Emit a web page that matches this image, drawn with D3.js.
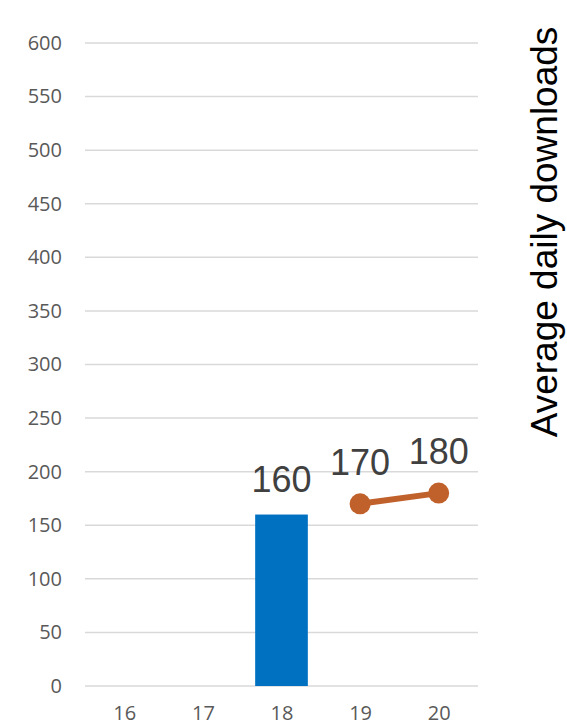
<!DOCTYPE html>
<html>
<head>
<meta charset="utf-8">
<script src="https://cdn.jsdelivr.net/npm/d3@7"></script>
<style>
  html, body { margin: 0; padding: 0; background: #fff; }
  svg { display: block; }
</style>
</head>
<body>
<svg id="chart" width="567" height="728"></svg>
<script>
// Chart data
const categories = ["16", "17", "18", "19", "20"];
const barValues = [null, null, 160, null, null];
const lineValues = [null, null, null, 170, 180];
const yTicks = [0, 50, 100, 150, 200, 250, 300, 350, 400, 450, 500, 550, 600];
const axisTitle = "Average daily downloads";

const svg = d3.select("#chart");
const plot = { left: 85, right: 478, top: 43, bottom: 686 };

const x = d3.scaleBand()
  .domain(categories)
  .range([plot.left, plot.right])
  .paddingInner(0.33)
  .paddingOuter(0.165);

const xc = d3.scalePoint()
  .domain(categories)
  .range([plot.left, plot.right])
  .padding(0.5);

const y = d3.scaleLinear().domain([0, 600]).range([plot.bottom, plot.top]);

// Horizontal gridlines
svg.append("g")
  .selectAll("line")
  .data(yTicks)
  .join("line")
  .attr("x1", plot.left).attr("x2", plot.right)
  .attr("y1", d => y(d)).attr("y2", d => y(d))
  .attr("stroke", "#d9d9d9")
  .attr("stroke-width", 1.5);

// Y axis labels
const yAxis = svg.append("g")
  .attr("transform", `translate(${plot.left},0)`)
  .call(d3.axisLeft(y).tickValues(yTicks).tickSize(0).tickPadding(23));
yAxis.select(".domain").remove();
yAxis.selectAll("text")
  .attr("font-family", "'Open Sans', 'Liberation Sans', sans-serif")
  .attr("font-size", 20)
  .attr("fill", "#595959");

// X axis labels
const xAxis = svg.append("g")
  .attr("transform", `translate(0,${plot.bottom})`)
  .call(d3.axisBottom(xc).tickSize(0).tickPadding(20));
xAxis.select(".domain").remove();
xAxis.selectAll("text")
  .attr("font-family", "'Open Sans', 'Liberation Sans', sans-serif")
  .attr("font-size", 20)
  .attr("fill", "#595959");

// Bars
const barData = categories.map((c, i) => ({ c, v: barValues[i] })).filter(d => d.v != null);
svg.append("g")
  .selectAll("rect")
  .data(barData)
  .join("rect")
  .attr("x", d => x(d.c))
  .attr("width", x.bandwidth())
  .attr("y", d => y(d.v))
  .attr("height", d => y(0) - y(d.v))
  .attr("fill", "#0070c0");

svg.append("g")
  .selectAll("text")
  .data(barData)
  .join("text")
  .attr("x", d => xc(d.c))
  .attr("y", d => y(d.v) - 23)
  .attr("text-anchor", "middle")
  .attr("font-family", "'Liberation Sans', Arial, sans-serif")
  .attr("font-size", 36)
  .attr("fill", "#404040")
  .text(d => d.v);

// Line series
const lineData = categories.map((c, i) => ({ c, v: lineValues[i] })).filter(d => d.v != null);
svg.append("path")
  .datum(lineData)
  .attr("d", d3.line().x(d => xc(d.c)).y(d => y(d.v)))
  .attr("fill", "none")
  .attr("stroke", "#c0612b")
  .attr("stroke-width", 6);

svg.append("g")
  .selectAll("circle")
  .data(lineData)
  .join("circle")
  .attr("cx", d => xc(d.c))
  .attr("cy", d => y(d.v))
  .attr("r", 10.5)
  .attr("fill", "#c0612b");

svg.append("g")
  .selectAll("text")
  .data(lineData)
  .join("text")
  .attr("x", d => xc(d.c))
  .attr("y", d => y(d.v) - 29)
  .attr("text-anchor", "middle")
  .attr("font-family", "'Liberation Sans', Arial, sans-serif")
  .attr("font-size", 36)
  .attr("fill", "#404040")
  .text(d => d.v);

// Axis title on the right
svg.append("text")
  .attr("transform", "translate(557,232) rotate(-90)")
  .attr("text-anchor", "middle")
  .attr("font-family", "'Liberation Sans', Arial, sans-serif")
  .attr("font-size", 37)
  .attr("fill", "#000")
  .text(axisTitle);
</script>
</body>
</html>
